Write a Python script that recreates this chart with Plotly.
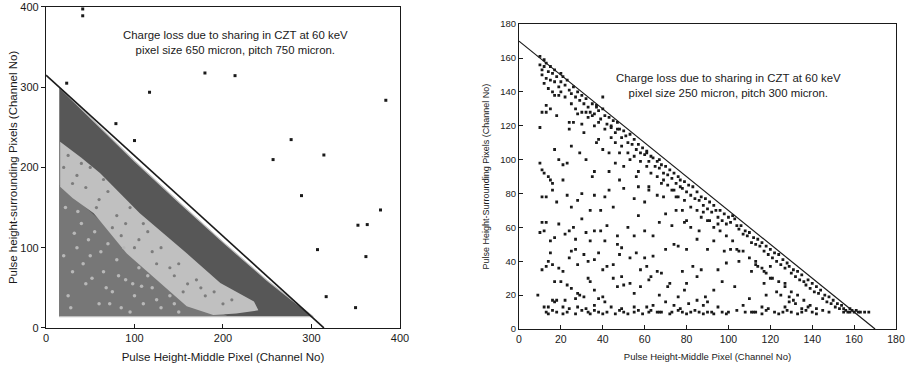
import plotly.graph_objects as go

# ---------------- Left panel (650 micron pixels) ----------------
left_outlier_x = [41.5, 41.5, 23.4, 79.0, 100.0, 117.0, 179.6, 213.6, 256.6, 277.0,
                  288.7, 314.0, 306.8, 316.6, 349.8, 352.5, 363.0, 378.0, 361.5, 384.0]
left_outlier_y = [397.5, 389.0, 305.0, 254.6, 233.5, 293.7, 317.7, 314.4, 209.8, 234.7,
                  164.9, 215.5, 97.6, 39.0, 25.3, 128.0, 128.8, 147.0, 88.9, 283.7]

# dense cloud outline (upper edge of the populated triangle)
cloud_top_x = [15, 60, 100, 150, 200, 250, 302, 302, 15]
cloud_top_y = [300, 251, 208, 157, 107, 59, 14, 14, 14]
# lower-left mottled region
mottle_x = [15, 15, 205, 170, 120, 70, 35, 15]
mottle_y = [178, 15, 15, 35, 75, 125, 160, 178]
# sparse light band
light_x = [16, 40, 61, 106, 159, 197, 235, 240, 215, 189, 159, 129, 91, 54, 30, 16, 16]
light_y = [232, 212, 193, 143, 93, 56, 33, 22, 18, 16, 27, 56, 93, 143, 162, 176, 232]
# speckles: pale gaps in the mottled region, grey dots in the light band
gap_x = [25, 30, 35, 40, 22, 45, 50, 55, 60, 65, 70, 75, 80, 85, 90, 100, 105, 110, 120, 130,
         140, 150, 28, 48, 68, 88, 95, 115, 125, 20, 32, 42, 62, 72, 82, 98, 36, 52, 108, 145]
gap_y = [40, 70, 100, 130, 150, 55, 90, 120, 30, 70, 105, 45, 85, 25, 60, 40, 75, 30, 50, 25,
         40, 20, 25, 110, 50, 100, 20, 65, 35, 90, 118, 80, 95, 30, 65, 55, 145, 62, 52, 30]
dot_x = [20, 25, 35, 45, 50, 60, 70, 80, 90, 95, 105, 115, 120, 130, 140, 150, 160, 170, 180,
         190, 200, 210, 65, 85, 110, 145, 175, 30, 40, 100, 125, 155, 57, 75]
dot_y = [200, 215, 190, 175, 200, 160, 170, 140, 130, 150, 110, 120, 95, 100, 75, 80, 55, 60, 40,
         45, 30, 35, 185, 115, 130, 65, 50, 180, 205, 100, 80, 45, 150, 125]

left_line_x = [0, 314]
left_line_y = [315, 0]

# ---------------- Right panel (250 micron pixels) ----------------
band_pts = [(10,161),(10,156),(11,153),(11,150),(12,159),(12,155),(13,148),(13,157),(14,152),(15,155),
 (15,147),(16,151),(17,153),(17,146),(18,149),(19,143),(20,151),(20,146),(21,149),(22,144),(23,147),
 (24,141),(25,139),(26,143),(27,137),(28,140),(29,135),(30,138),(31,133),(32,136),(33,131),(34,128),
 (35,133),(36,127),(37,131),(38,129),(39,124),(40,130),(41,126),(42,121),(43,125),(44,119),(45,123),
 (46,116),(47,122),(48,118),(49,113),(50,117),(51,114),(52,110),(53,115),(54,109),(55,112),(56,106),
 (57,109),(58,104),(59,107),(60,103),(61,105),(62,99),(63,102),(64,101),(65,96),(66,99),(67,95),
 (67,100),(68,97),(69,92),(70,96),(71,91),(72,94),(73,89),(74,92),(75,86),(76,90),(77,84),(77,88),
 (78,83),(79,87),(80,81),(81,85),(82,79),(83,84),(84,77),(85,81),(86,76),(87,78),(88,73),(89,77),
 (90,71),(91,75),(92,69),(93,73),(94,70),(95,66),(96,70),(97,64),(98,68),(99,62),(100,66),(101,63),
 (102,67),(103,65),(104,61),(105,59),(106,61),(107,56),(108,58),(109,55),(110,57),(111,51),(112,54),
 (113,50),(114,53),(115,49),(116,51),(117,46),(118,49),(119,44),(120,47),(121,42),(122,45),(123,40),
 (124,44),(125,38),(126,41),(127,36),(128,39),(129,37),(130,33),(131,35),(132,31),(133,34),(134,29),
 (135,32),(136,28),(137,26),(138,29),(139,24),(140,27),(141,22),(142,25),(143,21),(144,23),(145,18),
 (146,20),(147,16),(148,19),(149,15),(150,17),(151,13),(152,15),(153,12),(154,14),(155,10),(155,12),
 (156,11),(157,10),(158,12),(158,10),(159,11),(160,10),(161,11),(162,10),(163,10),(165,10),(167,10),
 (12,145),(14,142),(16,140),(19,138),(22,137),(25,133),(27,130),(30,128),(33,125),(36,120),(38,122),
 (41,118),(44,113),(46,110),(49,108),(52,104),(55,102),(58,99),(61,96),(63,92),(66,90),(68,86),(71,85),
 (74,82),(76,78),(79,76),(82,72),(85,70),(87,66),(90,64),(93,60),(96,58),(99,55),(102,52),(104,47),
 (107,46),(110,42),(113,40),(116,36),(118,33),(121,30),(124,28),(127,25),(130,22),(133,20),(136,17),
 (139,14),(142,12),(145,11),(148,10),
 (13,132),(18,126),(24,122),(31,116),(37,110),(43,104),(50,96),(56,90),(62,84),(69,78),(75,70),(80,64),
 (86,58),(93,52),(98,46),(105,40),(111,34),(117,27),(123,22),(129,16),(135,12)]

scatter_pts = [
 (13,10),(14,9),(16,11),(18,10),(21,9),(23,10),(27,9),(30,11),(33,10),(34,9),(36,11),(38,10),(40,9),
 (42,10),(46,9),(48,11),(50,10),(52,9),(55,10),(57,11),(59,9),(62,10),(63,11),(66,10),(67,10),(68,10),
 (72,9),(73,10),(76,11),(78,10),(80,9),(82,10),(84,11),(86,10),(88,9),(90,10),(92,10),(93,9),(97,10),
 (99,9),(100,10),(104,11),(108,10),(111,10),(112,10),(113,10),(116,9),(118,11),(122,10),(124,9),
 (126,10),(128,11),(130,10),(133,9),(135,10),(137,11),(140,10),(142,9),
 (12,13),(14,13),(17,16),(18,17),(21,13),(24,12),(28,13),(32,12),(36,14),(41,16),(44,13),(49,12),
 (55,13),(61,13),(64,14),(70,16),(74,14),(77,12),(81,15),(85,17),(88,14),(95,13),(107,14),(116,13),
 (119,12),(127,13),(132,15),(138,13),
 (9,20),(16,17),(20,28),(22,17),(23,26),(25,24),(27,18),(28,21),(29,20),(31,19),(33,30),(34,28),
 (36,23),(38,18),(40,19),(45,30),(47,25),(49,31),(50,26),(53,27),(55,21),(58,25),(62,29),(63,31),
 (67,20),(68,33),(71,25),(72,27),(76,19),(79,23),(80,27),(85,31),(89,19),(90,16),(93,23),(97,28),
 (103,25),(110,18),(114,37),(118,20),(120,30),(125,20),(127,27),(129,19),(131,17),
 (11,35),(13,37),(14,40),(15,45),(16,38),(17,28),(19,36),(21,34),(24,42),(25,46),(27,47),(28,38),
 (31,44),(33,40),(36,41),(38,45),(40,35),(42,37),(45,38),(47,50),(48,44),(53,42),(56,45),(58,35),
 (60,42),(61,37),(64,43),(66,34),(70,47),(74,50),(78,34),(80,47),(83,37),(87,35),(90,47),(95,35),
 (99,39),(101,47),(105,46),(113,38),(117,34),(120,37),
 (10,57),(11,63),(12,58),(13,63),(15,52),(17,54),(19,62),(22,56),(24,58),(26,60),(27,53),(30,65),
 (32,57),(34,52),(36,58),(39,58),(41,52),(42,61),(47,55),(49,48),(52,60),(55,55),(57,67),(60,58),
 (64,55),(67,63),(70,68),(73,61),(76,49),(79,63),(82,60),(85,53),(88,69),(91,64),(95,62),
 (11,78),(13,78),(15,88),(16,82),(18,75),(21,88),(23,79),(25,72),(28,76),(30,80),(34,70),(36,79),
 (39,70),(41,78),(43,82),(45,72),(48,88),(50,83),(55,77),(57,84),(60,75),(62,82),(66,79),(69,88),
 (73,82),(75,78),(78,70),
 (10,98),(11,94),(12,92),(14,90),(16,86),(17,106),(19,100),(21,97),(23,98),(25,108),(29,104),
 (32,100),(35,90),(36,93),(38,112),(40,106),(43,93),(46,98),(48,104),(53,100),(57,93),(61,104),
 (10,119),(11,128),(13,128),(15,130),(17,138),(20,140),(24,118),(26,122),(28,127),(30,121),(32,128),
 (35,126),(37,132),(40,137),(44,120),(47,118)]

right_x = [p[0] for p in band_pts + scatter_pts]
right_y = [p[1] for p in band_pts + scatter_pts]

right_line_x = [0, 170]
right_line_y = [170, 0]

FONT = "Liberation Sans, Arial, sans-serif"
INK = "#1a1a1a"

fig = go.Figure()

# left panel layers
fig.add_trace(go.Scatter(x=cloud_top_x, y=cloud_top_y, fill="toself",
                         fillcolor="#575757", line=dict(color="#bdbdbd", width=1.2),
                         mode="lines", hoverinfo="skip", xaxis="x", yaxis="y"))
fig.add_trace(go.Scatter(x=mottle_x, y=mottle_y, fill="toself", fillcolor="#777777",
                         line=dict(width=0), mode="lines", hoverinfo="skip", xaxis="x", yaxis="y"))
fig.add_trace(go.Scatter(x=light_x, y=light_y, fill="toself", fillcolor="#c0c0c0",
                         line=dict(width=0), mode="lines", hoverinfo="skip",
                         xaxis="x", yaxis="y"))
fig.add_trace(go.Scatter(x=gap_x, y=gap_y, mode="markers", hoverinfo="skip",
                         marker=dict(color="#b8b8b8", size=3.5, line=dict(width=0)),
                         xaxis="x", yaxis="y"))
fig.add_trace(go.Scatter(x=dot_x, y=dot_y, mode="markers", hoverinfo="skip",
                         marker=dict(color="#7c7c7c", size=3.2, line=dict(width=0)),
                         xaxis="x", yaxis="y"))
fig.add_trace(go.Scatter(x=left_line_x, y=left_line_y, mode="lines",
                         line=dict(color=INK, width=1.6), xaxis="x", yaxis="y"))
fig.add_trace(go.Scatter(x=left_outlier_x, y=left_outlier_y, mode="markers",
                         marker=dict(color=INK, size=3, symbol="square"), xaxis="x", yaxis="y"))

# right panel
fig.add_trace(go.Scatter(x=right_line_x, y=right_line_y, mode="lines",
                         line=dict(color=INK, width=1.2), xaxis="x2", yaxis="y2"))
fig.add_trace(go.Scatter(x=right_x, y=right_y, mode="markers",
                         marker=dict(color=INK, size=2.8, symbol="square"), xaxis="x2", yaxis="y2"))

axis_common = dict(showline=True, linecolor=INK, linewidth=1.2, mirror=True, showgrid=False,
                   zeroline=False, ticklen=4, tickcolor=INK, tickwidth=1, automargin=False,
                   tickfont=dict(family=FONT, size=11, color=INK))

fig.update_layout(
    width=907, height=366, margin=dict(l=0, r=0, t=0, b=0, autoexpand=False),
    paper_bgcolor="white", plot_bgcolor="white", showlegend=False,
    xaxis=dict(domain=[0.0507, 0.441], range=[0, 400], tickvals=[0, 100, 200, 300, 400],
               ticks="inside", anchor="y",
               title=dict(text="Pulse Height-Middle Pixel (Channel No)", standoff=9,
                          font=dict(family=FONT, size=11.5, color=INK)), **axis_common),
    yaxis=dict(domain=[0.104, 0.981], range=[0, 400], tickvals=[0, 100, 200, 300, 400],
               ticks="outside", anchor="x",
               title=dict(text="Pulse height-surrounding Pixels (Channel No)", standoff=0,
                          font=dict(family=FONT, size=11.5, color=INK)), **axis_common),
    xaxis2=dict(domain=[0.5722, 0.9879], range=[0, 180], tickvals=list(range(0, 181, 20)),
                ticks="inside", anchor="y2",
                title=dict(text="Pulse Height-Middle Pixel (Channel No)", standoff=9,
                           font=dict(family=FONT, size=9.5, color=INK)), **axis_common),
    yaxis2=dict(domain=[0.101, 0.934], range=[0, 180], tickvals=list(range(0, 181, 20)),
                ticks="inside", anchor="x2",
                title=dict(text="Pulse Height-Surrounding Pixels (Channel No)", standoff=8,
                           font=dict(family=FONT, size=9, color=INK)), **axis_common),
)
fig.layout.xaxis2.tickfont.size = 10.5
fig.layout.yaxis2.tickfont.size = 9.5

fig.add_annotation(x=214, y=356, xref="x", yref="y", showarrow=False,
                   text="Charge loss due to sharing in CZT at 60 keV<br>pixel size 650 micron, pitch 750 micron.",
                   font=dict(family=FONT, size=11.4, color=INK), align="center")
fig.add_annotation(x=100, y=144, xref="x2", yref="y2", showarrow=False,
                   text="Charge loss due to sharing in CZT at 60 keV<br>pixel size 250 micron, pitch 300 micron.",
                   font=dict(family=FONT, size=11.4, color=INK), align="center")

fig.write_html("out.html", config={"displayModeBar": False},
               post_script="document.body.style.margin='0';document.body.style.overflow='hidden';")
